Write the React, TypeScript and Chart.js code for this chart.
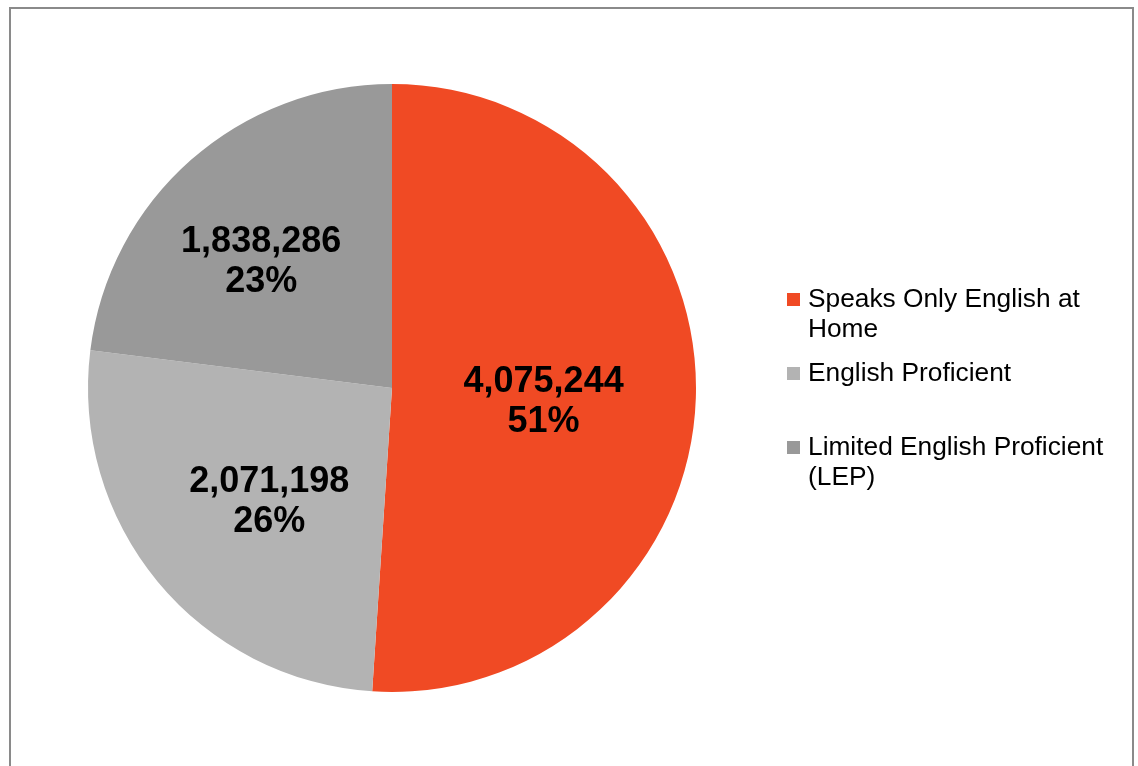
import React, { useEffect, useRef } from "react";
import { Chart, ArcElement, PieController } from "chart.js";

Chart.register(ArcElement, PieController);

// ---- data ----
const categories: string[] = [
  "Speaks Only English at Home",
  "English Proficient",
  "Limited English Proficient (LEP)",
];
const values: number[] = [4075244, 2071198, 1838286];

// ---- styles ----
const sliceColors: string[] = ["#F04A24", "#B3B3B3", "#999999"];
const FONT = '"Liberation Sans", Arial, Helvetica, sans-serif';

const labelRadialFraction = [0.5, 0.545, 0.605];
const labelAngleShiftDeg = [2.3, -2.6, -3.9];

const dataLabelPlugin = {
  id: "pieDataLabels",
  afterDatasetsDraw(chart: any) {
    const ctx = chart.ctx;
    const meta = chart.getDatasetMeta(0);
    const data = chart.data.datasets[0].data as number[];
    const total = data.reduce((a, b) => a + b, 0);
    ctx.save();
    ctx.fillStyle = "#000000";
    ctx.font = `bold 36px ${FONT}`;
    ctx.textAlign = "center";
    ctx.textBaseline = "alphabetic";
    meta.data.forEach((arc: any, i: number) => {
      const p = arc.getProps(["x", "y", "startAngle", "endAngle", "outerRadius"], true);
      const mid = (p.startAngle + p.endAngle) / 2 + (labelAngleShiftDeg[i] * Math.PI) / 180;
      const r = p.outerRadius * labelRadialFraction[i];
      const cx = p.x + Math.cos(mid) * r;
      const cy = p.y + Math.sin(mid) * r;
      const v = data[i];
      const pct = Math.round((v / total) * 100) + "%";
      ctx.fillText(v.toLocaleString("en-US"), cx, cy - 7);
      ctx.fillText(pct, cx, cy + 33);
    });
    ctx.restore();
  },
};

function wrapText(ctx: CanvasRenderingContext2D, text: string, maxWidth: number): string[] {
  const words = text.split(" ");
  const lines: string[] = [];
  let cur = "";
  for (const w of words) {
    const test = cur ? cur + " " + w : w;
    if (ctx.measureText(test).width > maxWidth && cur) {
      lines.push(cur);
      cur = w;
    } else {
      cur = test;
    }
  }
  if (cur) lines.push(cur);
  return lines;
}

const legendPlugin = {
  id: "sideLegend",
  afterDraw(chart: any) {
    const ctx = chart.ctx as CanvasRenderingContext2D;
    const labels = chart.data.labels as string[];
    const colors = chart.data.datasets[0].backgroundColor as string[];
    const markerX = 787;
    const textX = 808;
    const firstBaseline = 307;
    const slot = 74;
    const lineHeight = 30;
    ctx.save();
    ctx.font = `26.3px ${FONT}`;
    ctx.textAlign = "left";
    ctx.textBaseline = "alphabetic";
    labels.forEach((lab, i) => {
      const base = firstBaseline + slot * i;
      ctx.fillStyle = colors[i];
      ctx.fillRect(markerX, base - 14, 13, 13);
      ctx.fillStyle = "#000000";
      const lines = wrapText(ctx, lab, 305);
      lines.forEach((ln, j) => ctx.fillText(ln, textX, base + j * lineHeight));
    });
    ctx.restore();
  },
};

export default function App() {
  const ref = useRef<HTMLCanvasElement | null>(null);

  useEffect(() => {
    if (!ref.current) return;
    const chart = new Chart(ref.current, {
      type: "pie",
      data: {
        labels: categories,
        datasets: [
          {
            data: values,
            backgroundColor: sliceColors,
            borderWidth: 0,
          },
        ],
      },
      options: {
        responsive: false,
        animation: false,
        layout: { padding: { top: 84, bottom: 74, left: 88, right: 442 } },
        plugins: {
          legend: { display: false },
          tooltip: { enabled: false },
        },
        events: [],
      },
      plugins: [dataLabelPlugin, legendPlugin],
    });
    return () => chart.destroy();
  }, []);

  return (
    <>
      <div
        style={{
          position: "fixed",
          left: 9,
          top: 7,
          width: 1125,
          height: 775,
          boxSizing: "border-box",
          border: "2px solid #8a8a8a",
          background: "#ffffff",
        }}
      />
      <canvas
        ref={ref}
        width={1138}
        height={766}
        style={{ position: "fixed", left: 0, top: 0, width: 1138, height: 766, display: "block" }}
      />
    </>
  );
}
